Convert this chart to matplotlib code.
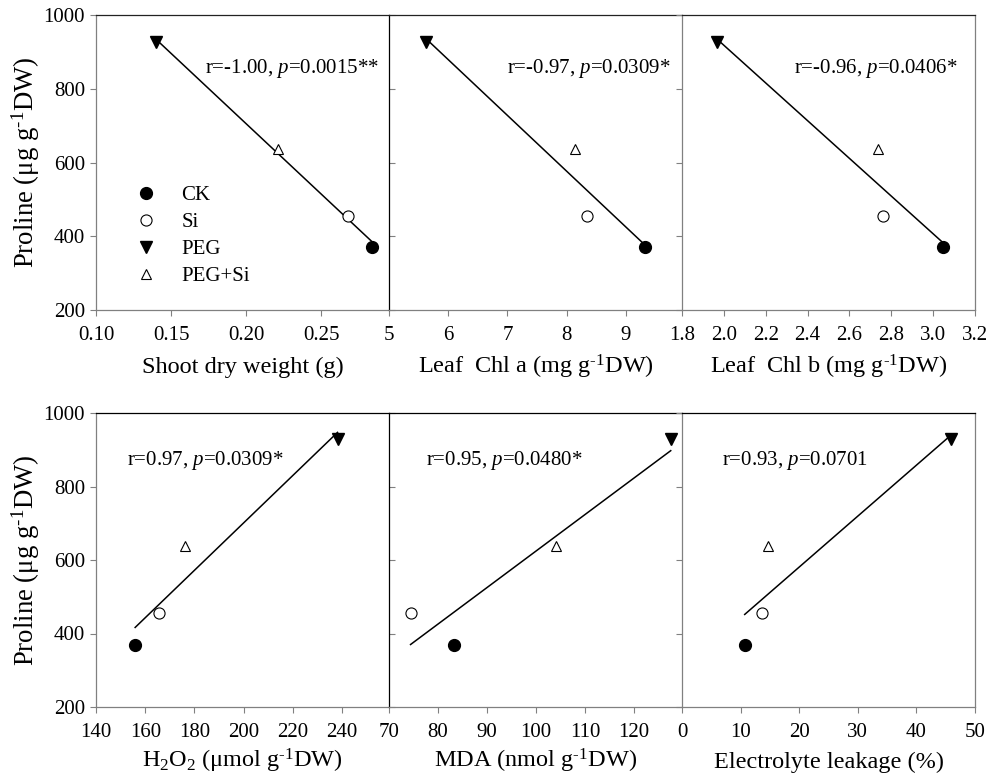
import numpy as np
import matplotlib
matplotlib.use("Agg")
import matplotlib.pyplot as plt

plt.rcParams['font.family'] = ['Liberation Serif', 'DejaVu Serif']
plt.rcParams['mathtext.fontset'] = 'custom'
plt.rcParams['mathtext.rm'] = 'Liberation Serif'
plt.rcParams['mathtext.it'] = 'Liberation Serif:italic'
plt.rcParams['mathtext.default'] = 'regular'

# ---- data ----
treatments = ['CK', 'Si', 'PEG', 'PEG+Si']
proline = [370, 456, 928, 637]

shoot_dw = [0.284, 0.268, 0.140, 0.221]
chl_a = [9.32, 8.35, 5.62, 8.15]
chl_b = [3.045, 2.76, 1.965, 2.735]
h2o2 = [155.9, 165.7, 238.1, 176.2]
mda = [83.3, 74.4, 127.5, 104.1]
el = [10.7, 13.6, 45.9, 14.7]

SUP = '$^{\u20101}$'
xlabels = ['Shoot dry weight (g)', 'Leaf  Chl a (mg g' + SUP + 'DW)', 'Leaf  Chl b (mg g' + SUP + 'DW)',
           'H$_2$O$_2$ (\u03bcmol g' + SUP + 'DW)', 'MDA (nmol g' + SUP + 'DW)', 'Electrolyte leakage (%)']
ylabel = 'Proline (\u03bcg g' + SUP + 'DW)'
stats = ['r=-1.00, $\\it{p}$=0.0015**', 'r=-0.97, $\\it{p}$=0.0309*', 'r=-0.96, $\\it{p}$=0.0406*',
         'r=0.97, $\\it{p}$=0.0309*', 'r=0.95, $\\it{p}$=0.0480*', 'r=0.93, $\\it{p}$=0.0701']
xlims = [(0.10, 0.2953), (5, 9.95), (1.8, 3.2), (140, 259), (70, 129.8), (0, 50)]
xticks = [[0.10, 0.15, 0.20, 0.25], [5, 6, 7, 8, 9], [1.8, 2.0, 2.2, 2.4, 2.6, 2.8, 3.0, 3.2],
          [140, 160, 180, 200, 220, 240], [70, 80, 90, 100, 110, 120], [0, 10, 20, 30, 40, 50]]
xtickfmt = ['{:.2f}', '{:d}', '{:.1f}', '{:d}', '{:d}', '{:d}']
xvals = [shoot_dw, chl_a, chl_b, h2o2, mda, el]
# text anchor (axes fraction), horizontal alignment
text_pos = [(0.965, 0.82, 'right'), (0.96, 0.82, 'right'), (0.94, 0.82, 'right'),
            (0.105, 0.84, 'left'), (0.125, 0.84, 'left'), (0.135, 0.84, 'left')]

styles = {
    'CK': dict(marker='o', mfc='black', mec='black', ms=8.5),
    'Si': dict(marker='o', mfc='white', mec='black', ms=8, mew=0.8),
    'PEG': dict(marker='v', mfc='black', mec='black', ms=8.5),
    'PEG+Si': dict(marker='^', mfc='white', mec='black', ms=7, mew=0.8),
}

W, H = 1002, 783
fig = plt.figure(figsize=(W / 100, H / 100), dpi=100)
lefts = [96, 389, 682]
pw = 293
rows = [(15, 310), (413, 707)]
tick_pad = [7.5, 7.5]
xlabel_y = [-0.2136, -0.207]
gray = '#808080'

for i in range(6):
    r, c = divmod(i, 3)
    top, bot = rows[r]
    ax = fig.add_axes([lefts[c] / W, 1 - bot / H, pw / W, (bot - top) / H])
    x = np.array(xvals[i], dtype=float)
    y = np.array(proline, dtype=float)
    slope, icpt = np.polyfit(x, y, 1)
    xs = np.array([x.min(), x.max()])
    ax.plot(xs, slope * xs + icpt, color='black', lw=1.1, zorder=2)
    for k, t in enumerate(treatments):
        ax.plot([x[k]], [y[k]], ls='none', label=t, zorder=3, **styles[t])
    ax.set_xlim(*xlims[i])
    ax.set_ylim(200, 1000)
    ax.set_xticks(xticks[i])
    fmt = xtickfmt[i]
    ax.set_xticklabels([fmt.format(int(v)) if fmt == '{:d}' else fmt.format(v) for v in xticks[i]])
    ax.set_yticks([200, 400, 600, 800, 1000])
    ax.tick_params(axis='both', labelsize=15, length=4, width=0.8,
                   direction='out', colors=gray, labelcolor='black')
    ax.tick_params(axis='x', pad=tick_pad[r])
    ax.tick_params(axis='y', pad=4)
    for s in ['left', 'right', 'bottom']:
        ax.spines[s].set_color(gray)
        ax.spines[s].set_linewidth(0.9)
    ax.spines['top'].set_color('#222222' if r == 0 else 'black')
    ax.spines['top'].set_linewidth(0.9)
    if c == 0:
        ax.set_ylabel(ylabel, fontsize=19.3)
        ax.yaxis.set_label_coords(-0.186, 0.5)
        ax.spines['right'].set_visible(False)
    else:
        ax.set_yticklabels([])
        if c == 1:
            ax.spines['left'].set_color('black')
            ax.tick_params(axis='y', direction='in')
            ax.spines['right'].set_visible(False)
        else:
            ax.tick_params(axis='y', direction='out')
    ax.set_xlabel(xlabels[i], fontsize=17.5, va='baseline')
    ax.xaxis.set_label_coords(0.5, xlabel_y[r])
    tx, ty, ha = text_pos[i]
    ax.text(tx, ty, stats[i], transform=ax.transAxes, ha=ha, va='center', fontsize=15)
    if i == 0:
        ax.legend(loc='upper left', bbox_to_anchor=(0.10, 0.45), frameon=False, fontsize=15,
                  handletextpad=1.1, labelspacing=0.36, borderaxespad=0, handlelength=1.2)
    ax.set_facecolor('white')

fig.savefig('out.png', dpi=100)
